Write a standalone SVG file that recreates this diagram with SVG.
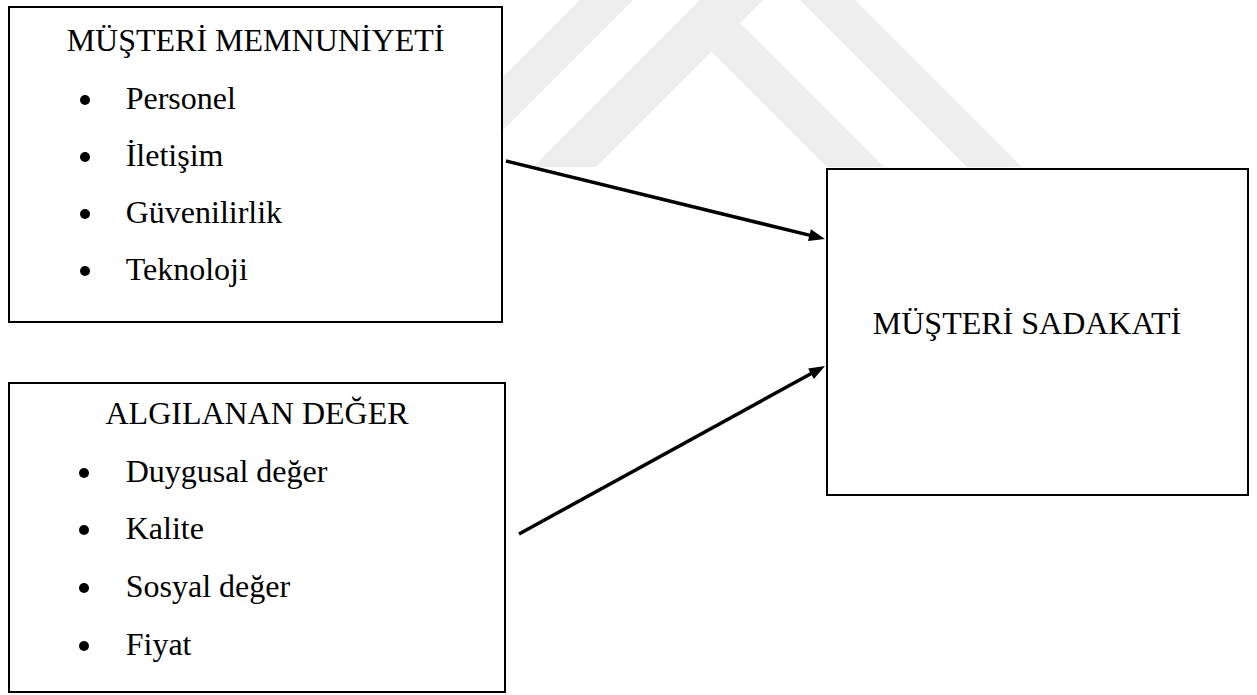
<svg xmlns="http://www.w3.org/2000/svg" width="1257" height="695" viewBox="0 0 1257 695">
  <style>
    .box { fill: #ffffff; stroke: #000000; stroke-width: 2; }
    .t { font-family: "Liberation Serif", "Times New Roman", serif; font-size: 32px; fill: #000000; }
    .title { text-anchor: middle; }
    .dot { fill: #000000; }
    .conn { stroke: #000000; stroke-width: 3.5; fill: none; marker-end: url(#arrow); }
    .wm { fill: #eeeeee; }
  </style>
  <defs>
    <marker id="arrow" markerUnits="userSpaceOnUse" markerWidth="16" markerHeight="12" refX="4" refY="6" orient="auto" overflow="visible">
      <path d="M0,0 L16,6 L0,12 z" fill="#000000"/>
    </marker>
    <clipPath id="wmclip">
      <rect x="0" y="0" width="1257" height="167"/>
    </clipPath>
  </defs>
  <rect x="0" y="0" width="1257" height="695" fill="#ffffff"/>
  <g id="watermark" clip-path="url(#wmclip)">
    <polygon class="wm" points="580,0 633,0 466,167 413,167"/>
    <polygon class="wm" points="700,0 763,0 596,167 533,167"/>
    <polygon class="wm" points="711.5,51.5 740,23 884,167 827,167"/>
    <polygon class="wm" points="800,0 855,0 1022,167 967,167"/>
  </g>
  <g id="node-memnuniyet">
    <rect class="box" x="9" y="7" width="493" height="315"/>
    <text class="t title" x="255.5" y="51">MÜŞTERİ MEMNUNİYETİ</text>
    <circle class="dot" cx="85" cy="100" r="5"/>
    <text class="t" x="125.7" y="109">Personel</text>
    <circle class="dot" cx="85" cy="157" r="5"/>
    <text class="t" x="125.7" y="166">İletişim</text>
    <circle class="dot" cx="85" cy="214" r="5"/>
    <text class="t" x="125.7" y="223">Güvenilirlik</text>
    <circle class="dot" cx="85" cy="271" r="5"/>
    <text class="t" x="125.7" y="280">Teknoloji</text>
  </g>
  <g id="node-deger">
    <rect class="box" x="9" y="383" width="496" height="309"/>
    <text class="t title" x="257" y="424">ALGILANAN DEĞER</text>
    <circle class="dot" cx="84" cy="473" r="5"/>
    <text class="t" x="125.7" y="482">Duygusal değer</text>
    <circle class="dot" cx="84" cy="530" r="5"/>
    <text class="t" x="125.7" y="539">Kalite</text>
    <circle class="dot" cx="84" cy="588" r="5"/>
    <text class="t" x="125.7" y="597">Sosyal değer</text>
    <circle class="dot" cx="84" cy="646" r="5"/>
    <text class="t" x="125.7" y="655">Fiyat</text>
  </g>
  <g id="node-sadakat">
    <rect class="box" x="827" y="169" width="421" height="326"/>
    <text class="t title" x="1027" y="334">MÜŞTERİ SADAKATİ</text>
  </g>
  <g id="connectors">
    <line class="conn" x1="506" y1="161" x2="813.35" y2="236.15"/>
    <line class="conn" x1="519" y1="534" x2="814.48" y2="371.77"/>
  </g>
</svg>
